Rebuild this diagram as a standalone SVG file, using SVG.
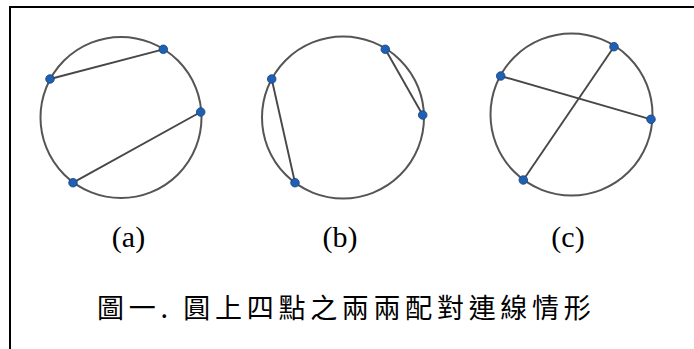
<svg xmlns="http://www.w3.org/2000/svg" width="694" height="349" viewBox="0 0 694 349">
<style>
.circ{fill:none;stroke:#555;stroke-width:2}
.chord{stroke:#474747;stroke-width:1.9}
.pt{fill:#1f5fb4;stroke:#17427e;stroke-width:0.8}
.lbl{font-family:"Liberation Serif","Times New Roman",serif;font-size:30px;fill:#000;text-anchor:middle}
.cap{font-family:"Noto Sans CJK TC","Noto Sans CJK SC",sans-serif;font-size:27px;fill:#000;letter-spacing:4.7px}
</style>
<rect x="0" y="0" width="694" height="349" fill="#fff"/>
<path d="M10,349 V7 H694" fill="none" stroke="#000" stroke-width="2"/>
<g id="circle-a">
<circle class="circ" cx="121" cy="117.5" r="80.5"/>
</g>
<g id="circle-b">
<circle class="circ" cx="343" cy="117.5" r="81"/>
</g>
<g id="circle-c">
<circle class="circ" cx="571.5" cy="114.5" r="81"/>
</g>
<g id="connectors">
<line class="chord" x1="50" y1="79" x2="163.3" y2="49.3"/>
<line class="chord" x1="200.7" y1="112" x2="73" y2="182.7"/>
<line class="chord" x1="271.7" y1="79" x2="295" y2="182.7"/>
<line class="chord" x1="385.3" y1="49.3" x2="422.7" y2="115"/>
<line class="chord" x1="500.7" y1="76" x2="651" y2="119.3"/>
<line class="chord" x1="614" y1="46.7" x2="523.3" y2="180"/>
</g>
<g id="points">
<circle class="pt" cx="50" cy="79" r="4.3"/>
<circle class="pt" cx="163.3" cy="49.3" r="4.3"/>
<circle class="pt" cx="200.7" cy="112" r="4.3"/>
<circle class="pt" cx="73" cy="182.7" r="4.3"/>
<circle class="pt" cx="271.7" cy="79" r="4.3"/>
<circle class="pt" cx="385.3" cy="49.3" r="4.3"/>
<circle class="pt" cx="422.7" cy="115" r="4.3"/>
<circle class="pt" cx="295" cy="182.7" r="4.3"/>
<circle class="pt" cx="500.7" cy="76" r="4.3"/>
<circle class="pt" cx="614" cy="46.7" r="4.3"/>
<circle class="pt" cx="651" cy="119.3" r="4.3"/>
<circle class="pt" cx="523.3" cy="180" r="4.3"/>
</g>
<g id="labels">
<text class="lbl" x="128.5" y="246.5">(a)</text>
<text class="lbl" x="340" y="246.5">(b)</text>
<text class="lbl" x="568" y="246.5">(c)</text>
</g>
<g id="caption">
<text class="cap" x="97" y="317.5">圖一. 圓上四點之兩兩配對連線情形</text>
</g>
</svg>
